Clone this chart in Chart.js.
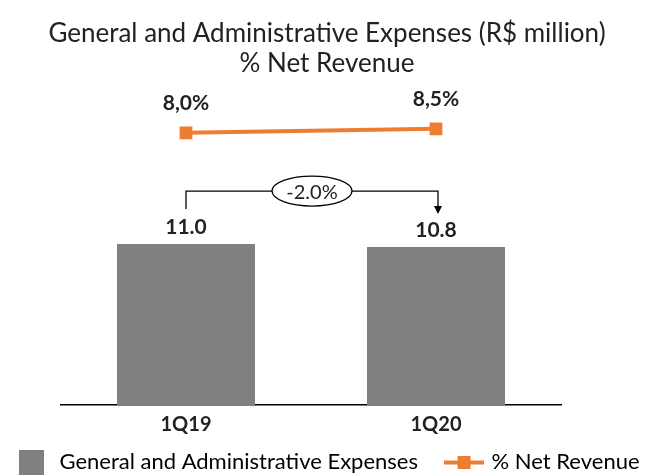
<!DOCTYPE html>
<html lang="en">
<head>
    <meta charset="UTF-8">
    <title>General and Administrative Expenses</title>
    <script src="https://cdn.jsdelivr.net/npm/chart.js"></script>
    <style>
        html, body { margin: 0; padding: 0; background: #fff; }
        #wrap { width: 654px; height: 475px; }
    </style>
</head>
<body>
    <div id="wrap"><canvas id="gaChart"></canvas></div>

    <script>
        const quarters = ['1Q19', '1Q20'];
        const expenses = [11.0, 10.8];
        const netRevenuePct = [8.0, 8.5];
        const changeLabel = '-2.0%';

        const FONT = 'Lato, "Liberation Sans", sans-serif';
        const ORANGE = '#ED7D31';
        const GRAY = '#808080';

        // legend markers
        function boxIcon() {
            const c = document.createElement('canvas');
            c.width = 25; c.height = 25;
            const g = c.getContext('2d');
            g.fillStyle = GRAY;
            g.fillRect(0, 0, 25, 25);
            return c;
        }
        function lineIcon() {
            const c = document.createElement('canvas');
            c.width = 40; c.height = 13;
            const g = c.getContext('2d');
            g.fillStyle = ORANGE;
            g.fillRect(0, 5, 40, 4);
            g.fillRect(14, 0, 13, 13);
            return c;
        }

        const labelsPlugin = {
            id: 'labels',
            afterDatasetsDraw(chart) {
                const ctx = chart.ctx;
                const bars = chart.getDatasetMeta(0).data;
                const pts = chart.getDatasetMeta(1).data;
                ctx.save();
                ctx.fillStyle = '#222';
                ctx.font = 'bold 21px ' + FONT;
                ctx.textAlign = 'center';
                ctx.textBaseline = 'middle';
                bars.forEach((bar, i) => {
                    ctx.fillText(expenses[i].toFixed(1), bar.x, bar.y - 17);
                });
                pts.forEach((pt, i) => {
                    ctx.fillText(netRevenuePct[i].toFixed(1).replace('.', ',') + '%', pt.x, pt.y - 30);
                });

                // change bracket between the two bars
                const x1 = bars[0].x, x2 = bars[1].x + 2;
                const yLine = Math.min(bars[0].y, bars[1].y) - 53;
                ctx.strokeStyle = '#000';
                ctx.lineWidth = 1.3;
                ctx.beginPath();
                ctx.moveTo(x1, yLine + 18);
                ctx.lineTo(x1, yLine);
                ctx.lineTo(x2, yLine);
                ctx.lineTo(x2, yLine + 16);
                ctx.stroke();
                ctx.fillStyle = '#000';
                ctx.beginPath();
                ctx.moveTo(x2 - 4, yLine + 15);
                ctx.lineTo(x2 + 4, yLine + 15);
                ctx.lineTo(x2, yLine + 23);
                ctx.closePath();
                ctx.fill();

                const cx = (x1 + x2) / 2;
                ctx.fillStyle = '#fff';
                ctx.beginPath();
                ctx.ellipse(cx, yLine, 40, 15, 0, 0, Math.PI * 2);
                ctx.fill();
                ctx.stroke();
                ctx.fillStyle = '#222';
                ctx.font = '20px ' + FONT;
                ctx.fillText(changeLabel, cx, yLine + 1);
                ctx.restore();
            }
        };

        new Chart(document.getElementById('gaChart'), {
            type: 'bar',
            data: {
                labels: quarters,
                datasets: [{
                    label: 'General and Administrative Expenses',
                    data: expenses,
                    backgroundColor: GRAY,
                    barPercentage: 0.552,
                    categoryPercentage: 1,
                    order: 1
                }, {
                    type: 'line',
                    label: '% Net Revenue',
                    data: netRevenuePct,
                    yAxisID: 'y2',
                    borderColor: ORANGE,
                    backgroundColor: ORANGE,
                    borderWidth: 4,
                    pointStyle: 'rect',
                    pointRadius: 9,
                    pointBorderWidth: 0,
                    order: 0
                }]
            },
            options: {
                responsive: true,
                maintainAspectRatio: false,
                animation: false,
                layout: { padding: { bottom: -8 } },
                plugins: {
                    title: {
                        display: true,
                        text: ['General and Administrative Expenses (R$ million)', '% Net Revenue'],
                        color: '#222',
                        font: { family: FONT, size: 26, weight: 'normal', lineHeight: 1.15 },
                        padding: { top: 19, bottom: 16 }
                    },
                    legend: {
                        position: 'bottom',
                        labels: {
                            color: '#222',
                            font: { family: FONT, size: 22, lineHeight: 1 },
                            usePointStyle: true,
                            pointStyleWidth: 34,
                            padding: 6,
                            generateLabels() {
                                return [
                                    { text: 'General and Administrative Expenses    ', pointStyle: boxIcon(), fillStyle: GRAY, strokeStyle: GRAY, lineWidth: 0, datasetIndex: 0 },
                                    { text: '% Net Revenue', pointStyle: lineIcon(), fillStyle: ORANGE, strokeStyle: ORANGE, lineWidth: 0, datasetIndex: 1 }
                                ];
                            }
                        }
                    },
                    tooltip: { enabled: false }
                },
                scales: {
                    x: {
                        grid: { display: false, drawTicks: false },
                        border: { display: true, color: '#000', width: 1.5 },
                        ticks: { color: '#222', font: { family: FONT, size: 20, weight: 'bold', lineHeight: 0.8 }, padding: 12 }
                    },
                    y: {
                        min: 0, max: 21.2,
                        ticks: { display: false },
                        grid: { display: false },
                        border: { display: false },
                        afterFit(s) { s.width = 61; }
                    },
                    y2: {
                        position: 'right',
                        min: -25.6, max: 12.7,
                        ticks: { display: false },
                        grid: { display: false },
                        border: { display: false },
                        afterFit(s) { s.width = 93; }
                    }
                }
            },
            plugins: [labelsPlugin]
        });
    </script>
</body>
</html>
